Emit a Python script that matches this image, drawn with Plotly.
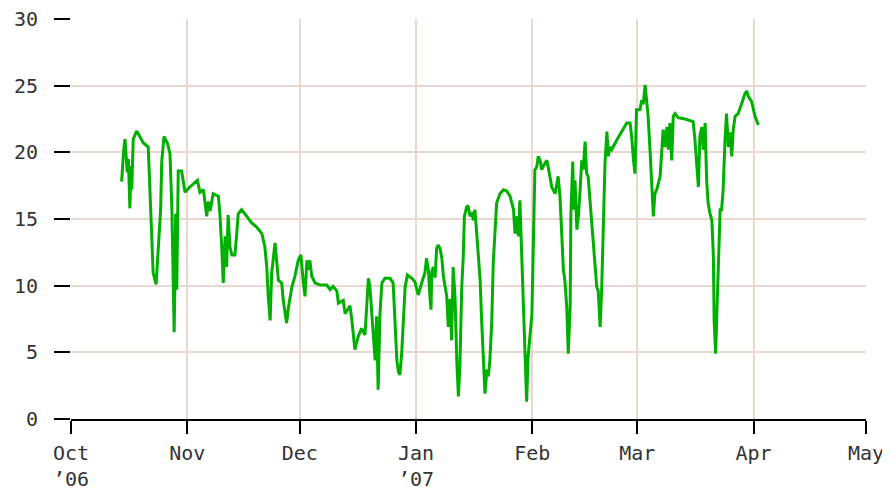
import pandas as pd
import plotly.graph_objects as go

# Day offsets from 2006-10-01 and values
day_offsets = [
    13.5, 13.7, 14.0, 14.4, 14.7, 15.0, 15.3, 15.7, 16.0, 16.2, 16.6, 17.5, 18.3, 19.3, 20.6,
    21.1, 21.5, 21.9, 22.3, 22.7, 23.3, 23.9, 24.2, 24.8, 25.3, 25.7, 26.4, 26.9, 27.3, 27.5,
    27.7, 27.9, 28.2, 28.6, 29.5, 30.4, 31.7, 33.7, 34.4, 35.3, 36.2, 36.6, 37.1, 37.9, 39.3,
    39.7, 40.2, 40.6, 41.1, 41.5, 41.9, 42.4, 42.9, 43.7, 44.2, 44.6, 45.5, 46.9, 48.2, 49.5,
    50.9, 51.7, 52.2, 52.6, 53.1, 53.5, 54.4, 54.9, 55.3, 56.2, 56.6, 57.5, 58.0, 58.9, 59.7,
    60.6, 61.3, 61.9, 62.4, 62.9, 63.3, 63.7, 64.2, 65.1, 66.4, 68.2, 69.1, 69.9, 70.9, 71.3,
    72.6, 73.1, 74.4, 74.9, 75.7, 76.6, 77.5, 78.4, 78.9, 79.3, 79.7, 80.2, 81.1, 81.5, 81.9,
    82.4, 82.9, 83.7, 85.1, 85.9, 86.4, 86.9, 87.3, 87.7, 88.2, 88.6, 89.1, 89.7, 90.9, 91.7,
    92.6, 93.5, 94.4, 94.8, 95.3, 95.7, 96.0, 96.2, 96.6, 97.1, 97.5, 97.9, 98.4, 98.9, 99.3,
    100.2, 100.6, 101.1, 101.5, 101.9, 102.4, 102.9, 103.3, 103.7, 104.2, 104.6, 104.9, 105.5, 105.9, 106.4,
    106.9, 107.3, 107.7, 108.2, 108.6, 109.1, 109.5, 109.9, 110.4, 110.9, 111.3, 111.7, 112.2, 112.6, 113.1,
    113.5, 114.4, 115.3, 116.2, 117.1, 118.0, 118.4, 118.9, 119.3, 119.7, 120.2, 120.6, 121.1, 121.5, 121.9,
    122.4, 122.9, 123.3, 123.7, 124.2, 124.6, 125.1, 125.5, 126.4, 126.9, 127.7, 128.2, 129.1, 129.5, 129.9,
    130.4, 130.9, 131.3, 131.7, 132.2, 132.6, 133.1, 133.3, 133.8, 134.1, 134.4, 134.9, 135.3, 135.7, 136.2,
    136.6, 137.1, 137.5, 137.9, 138.4, 138.9, 139.3, 139.7, 140.2, 140.6, 141.1, 141.5, 141.9, 142.4, 142.9,
    143.3, 143.7, 144.2, 145.5, 146.9, 148.2, 149.1, 149.5, 150.0, 150.4, 150.8, 151.7, 152.2, 152.6, 153.1,
    153.5, 153.9, 154.4, 154.9, 155.3, 155.7, 156.2, 157.1, 157.5, 157.9, 158.4, 158.9, 159.3, 159.7, 160.2,
    160.6, 161.1, 161.9, 163.7, 165.1, 165.9, 166.4, 166.9, 167.3, 167.7, 168.2, 168.6, 169.1, 169.5, 169.9,
    170.4, 170.9, 171.3, 171.5, 171.9, 172.2, 172.6, 173.1, 173.5, 173.9, 174.4, 174.8, 175.3, 175.7, 176.2,
    176.6, 177.1, 177.9, 178.9, 179.7, 180.2, 180.6, 181.5, 182.4, 183.3,
]
values = [
    17.8, 18.8, 20.0, 21.0, 19.3, 18.5, 19.5, 15.8, 19.0, 17.2, 21.0, 21.6, 21.2, 20.7, 20.4,
    17.0, 13.7, 11.0, 10.5, 10.1, 12.9, 15.7, 19.3, 21.2, 20.9, 20.7, 19.9, 15.7, 9.7, 6.5,
    10.0, 15.4, 9.7, 18.6, 18.6, 17.0, 17.4, 17.9, 17.0, 17.2, 15.2, 16.3, 15.6, 16.9, 16.7,
    15.4, 12.9, 10.2, 13.7, 11.4, 15.3, 12.9, 12.3, 12.3, 13.9, 15.4, 15.7, 15.2, 14.7, 14.4,
    13.9, 12.9, 11.4, 9.2, 7.4, 10.9, 13.2, 11.7, 10.4, 10.2, 8.9, 7.2, 8.4, 9.9, 10.7,
    11.9, 12.3, 10.4, 9.2, 11.9, 11.2, 11.9, 10.7, 10.2, 10.05, 10.05, 9.7, 9.95, 9.6, 8.7,
    8.9, 7.9, 8.5, 7.4, 5.2, 6.2, 6.8, 6.3, 8.5, 10.55, 9.95, 8.2, 4.4, 7.7, 2.2,
    7.9, 10.2, 10.55, 10.55, 10.2, 7.7, 4.4, 3.55, 3.3, 5.0, 7.7, 9.9, 10.8, 10.55, 10.3,
    9.3, 10.2, 11.0, 12.05, 11.2, 9.2, 8.2, 11.0, 11.4, 10.6, 12.8, 13.05, 12.8, 12.05, 10.7,
    9.2, 6.9, 9.0, 5.9, 11.4, 9.2, 4.2, 1.7, 3.9, 9.9, 12.2, 15.2, 15.9, 16.0, 15.2,
    15.5, 14.9, 15.7, 13.9, 12.2, 10.4, 7.4, 4.4, 1.9, 3.7, 3.2, 4.4, 7.3, 11.7, 14.7,
    16.2, 16.9, 17.2, 17.1, 16.7, 15.7, 13.9, 15.2, 13.7, 16.4, 12.2, 8.7, 5.2, 1.3, 4.7,
    6.5, 7.8, 13.2, 18.7, 18.9, 19.7, 19.4, 18.7, 19.2, 19.4, 18.2, 17.4, 16.9, 17.6, 18.2,
    16.7, 13.4, 11.2, 10.4, 8.4, 4.9, 8.4, 15.4, 19.3, 15.7, 17.9, 14.2, 15.2, 16.9, 19.4,
    18.7, 20.8, 18.4, 18.2, 16.4, 14.4, 12.7, 11.2, 9.9, 9.6, 6.9, 9.6, 14.7, 19.2, 21.55,
    19.7, 20.4, 20.2, 20.9, 21.6, 22.2, 22.2, 21.2, 19.4, 18.4, 23.2, 23.2, 23.9, 23.6, 25.05,
    23.9, 22.7, 20.2, 16.9, 15.2, 16.9, 17.2, 18.2, 20.2, 21.7, 20.4, 21.9, 20.2, 22.2, 19.4,
    22.7, 22.9, 22.6, 22.5, 22.4, 22.3, 20.9, 18.9, 17.4, 21.2, 21.9, 20.2, 22.2, 17.9, 16.2,
    15.4, 14.9, 12.2, 7.4, 4.9, 7.6, 12.4, 15.7, 15.7, 17.2, 20.9, 22.9, 20.4, 21.5, 19.7,
    21.7, 22.7, 22.9, 23.7, 24.4, 24.6, 24.2, 23.8, 22.7, 22.05,
]

start_date = "2006-10-01"
tick_dates = ["2006-10-01", "2006-11-01", "2006-12-01", "2007-01-01",
              "2007-02-01", "2007-03-01", "2007-04-01", "2007-05-01"]
tick_labels = ["Oct<br>\u201906", "Nov", "Dec", "Jan<br>\u201907", "Feb", "Mar", "Apr", "May"]
y_ticks = [0, 5, 10, 15, 20, 25, 30]

dates = pd.Timestamp(start_date) + pd.to_timedelta(day_offsets, unit="D")

fig = go.Figure()
fig.add_trace(go.Scatter(
    x=dates, y=values, mode="lines",
    line=dict(color="#00b000", width=3),
    hoverinfo="skip", showlegend=False,
))

font = dict(family="DejaVu Sans Mono", size=20, color="#333333")
grid = "#ead8cf"

# page body has an 8px default margin, so the figure is sized to fit beside it
fig.update_layout(
    width=882, height=482,
    margin=dict(l=63, r=24, t=11, b=71),
    paper_bgcolor="white", plot_bgcolor="white",
    font=font,
)
fig.update_xaxes(
    range=[tick_dates[0], tick_dates[-1]], automargin=False,
    tickmode="array", tickvals=tick_dates, ticktext=tick_labels,
    showgrid=True, gridcolor=grid, gridwidth=2,
    showline=True, linecolor="#000000", linewidth=2,
    ticks="outside", ticklen=13, tickwidth=2, tickcolor="#000000",
    ticklabelstandoff=2, ticklabeloverflow="allow", zeroline=False, tickfont=font,
)
fig.update_yaxes(
    range=[0, 30], tickmode="array", tickvals=y_ticks, automargin=False,
    showgrid=True, gridcolor=grid, gridwidth=2,
    showline=False, zeroline=False,
    ticks="outside", ticklen=16, tickwidth=2, tickcolor="#000000",
    ticklabelstandoff=12, ticklabeloverflow="allow", tickfont=font,
)

fig.write_html("out.html")
